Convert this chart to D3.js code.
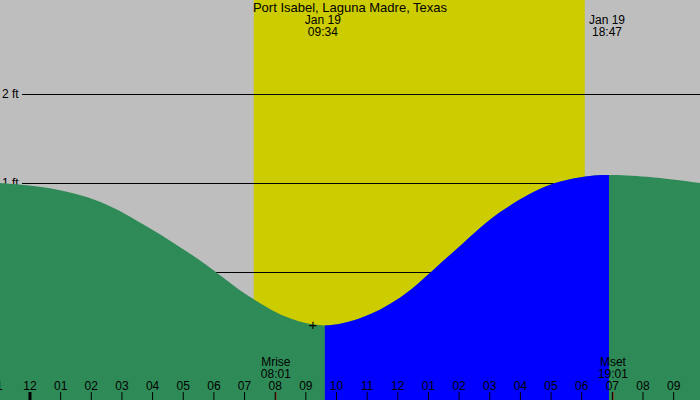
<!DOCTYPE html>
<html><head><meta charset="utf-8">
<script src="https://cdn.jsdelivr.net/npm/d3@7"></script>
<style>body{margin:0}svg{display:block;font-family:"Liberation Sans",Arial,sans-serif;font-size:12px}</style>
</head><body><div id="chart"></div>
<script>
// tide heights (hours from midnight Jan 19, feet)
const tideHours = [-0.98, 0.65, 2.28, 3.92, 5.55, 7.18, 8.48, 9.62, 10.77, 12.07, 13.70, 15.33, 16.97, 18.27, 18.89, 20.12, 21.86];
const tideFeet  = [1.00, 0.94, 0.79, 0.49, 0.13, -0.28, -0.52, -0.60, -0.52, -0.29, 0.19, 0.67, 0.98, 1.08, 1.09, 1.07, 1.00];
const levels = [0, 1, 2];
const tickHours = d3.range(-1, 22);
const tickLabels = ["1","12","01","02","03","04","05","06","07","08","09","10","11","12","01","02","03","04","05","06","07","08","09"];
const sunrise = 7.3, sunset = 18.1;
const lowTide = {h: 9.62, label: "09:34"}, highTide = {h: 18.89, label: "18:47"};
const moon = [{h: 8.02, name: "Mrise", label: "08:01"}, {h: 19.02, name: "Mset", label: "19:01"}];

const W = 700, H = 400;
const x = d3.scaleLinear().domain([0, 1]).range([30, 60.65]);
const y = d3.scaleLinear().domain([0, 1]).range([272, 183]);

const svg = d3.select("#chart").append("svg").attr("width", W).attr("height", H);
svg.append("rect").attr("width", W).attr("height", H).attr("fill", "#bebebe");
svg.append("rect").attr("x", x(sunrise)).attr("width", x(sunset) - x(sunrise))
  .attr("y", 0).attr("height", H).attr("fill", "#cccc00");

svg.selectAll(".lvl").data(levels).enter().append("line")
  .attr("x1", 22).attr("x2", W).attr("y1", d => y(d) + 0.5).attr("y2", d => y(d) + 0.5)
  .attr("stroke", "#000");
svg.selectAll(".lvlt").data(levels).enter().append("text")
  .attr("x", 2).attr("y", d => y(d)).attr("dy", "0.35em").text(d => d + " ft");

const pts = tideHours.map((h, i) => [h, tideFeet[i]]);
const area = d3.area().curve(d3.curveCatmullRom)
  .x(d => x(d[0])).y0(H).y1(d => y(d[1]));
svg.append("path").datum(pts).attr("d", area).attr("fill", "#2e8b57");
svg.append("clipPath").attr("id", "rise").append("rect")
  .attr("x", x(lowTide.h)).attr("width", x(highTide.h) - x(lowTide.h)).attr("y", 0).attr("height", H);
svg.append("path").datum(pts).attr("d", area).attr("fill", "#0000ff").attr("clip-path", "url(#rise)");

// low tide marker
svg.append("text").attr("x", x(lowTide.h) - 12).attr("y", y(-0.6) - 1).attr("dy", "0.35em")
  .attr("text-anchor", "middle").style("font-size", "15px").text("+");

svg.append("text").attr("x", 350).attr("y", 12).attr("text-anchor", "middle")
  .style("font-size", "13px").text("Port Isabel, Laguna Madre, Texas");
[lowTide, highTide].forEach(t => {
  const g = svg.append("g").attr("text-anchor", "middle");
  g.append("text").attr("x", x(t.h) - 2).attr("y", 24).text("Jan 19");
  g.append("text").attr("x", x(t.h) - 2).attr("y", 36).text(t.label);
});
moon.forEach(m => {
  svg.append("text").attr("x", x(m.h)).attr("y", 366).attr("text-anchor", "middle").text(m.name);
  svg.append("text").attr("x", x(m.h)).attr("y", 378).attr("text-anchor", "middle").text(m.label);
  svg.append("line").attr("x1", x(m.h)).attr("x2", x(m.h)).attr("y1", 392).attr("y2", H).attr("stroke", "#d00");
});

svg.selectAll(".tk").data(tickHours).enter().append("line")
  .attr("x1", d => x(d)).attr("x2", d => x(d)).attr("y1", 392).attr("y2", H)
  .attr("stroke", "#000").attr("stroke-width", d => d === 0 ? 3 : 1);
svg.selectAll(".tl").data(tickHours).enter().append("text")
  .attr("x", d => x(d)).attr("y", 390).attr("text-anchor", "middle").text((d, i) => tickLabels[i]);
</script></body></html>
